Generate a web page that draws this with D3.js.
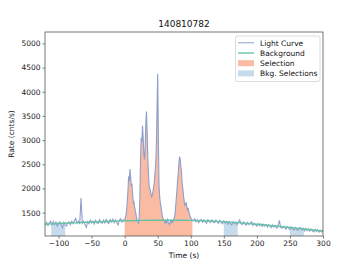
<!DOCTYPE html>
<html><head><meta charset="utf-8">
<script src="https://cdn.jsdelivr.net/npm/d3@7"></script>
<style>body{margin:0;background:#fff}svg{display:block;font-family:"DejaVu Sans",sans-serif}</style>
</head><body><svg id="c" width="360" height="270"></svg>
<script>
const title = "140810782";
// light curve: three time segments (pre-burst 2 s bins, burst 1 s bins, post-burst 2 s bins)
const preTimes = d3.range(-120, 0, 2);
const preRates = [1240,1300,1230,1290,1320,1245,1315,1255,1305,1225,1290,1310,1250,1190,1300,1240,1225,1290,1310,1250,1320,1270,1335,1380,1280,1325,1265,1800,1280,1320,1255,1195,1315,1270,1345,1285,1325,1265,1340,1290,1275,1355,1295,1280,1345,1285,1360,1300,1275,1355,1305,1365,1290,1350,1295,1245,1345,1375,1305,1350];
const burstTimes = d3.range(0, 105, 1);
const burstRates = [1330,1400,1450,1560,1750,1950,2250,2150,2400,2250,2050,2100,1900,1700,1720,1620,1550,1480,1380,1340,1310,1270,1420,1800,2600,3050,2950,3300,3050,2700,2600,2850,3350,3590,3150,2650,2300,2050,2000,1950,1880,1830,1870,1950,2050,2150,2350,2500,2900,3700,4370,3000,2050,1820,1700,1620,1520,1430,1380,1350,1330,1290,1350,1280,1330,1360,1290,1275,1250,1310,1330,1280,1350,1300,1360,1380,1450,1600,1780,1950,2150,2320,2500,2660,2600,2450,2320,2100,2000,1850,1750,1640,1680,1700,1620,1560,1600,1520,1480,1420,1390,1370,1350,1340,1330];
const postTimes = d3.range(106, 301, 2);
const postRates = [1370,1310,1355,1290,1345,1360,1300,1350,1310,1280,1355,1320,1295,1350,1305,1290,1345,1310,1280,1340,1295,1270,1330,1285,1320,1260,1310,1275,1250,1315,1270,1305,1250,1310,1350,1270,1255,1310,1260,1240,1300,1255,1285,1310,1235,1280,1245,1220,1275,1230,1270,1215,1260,1220,1255,1200,1250,1215,1190,1245,1200,1235,1180,1225,1340,1190,1175,1220,1185,1160,1210,1175,1150,1205,1165,1140,1190,1150,1130,1180,1195,1140,1175,1125,1170,1130,1160,1115,1160,1125,1100,1150,1110,1145,1095,1135,1100,1130];
// background model sampled every 20 s
const bkgTimes = d3.range(-120, 301, 20);
const bkgRates = [1262,1275,1288,1300,1312,1322,1331,1338,1342,1344,1343,1340,1333,1320,1303,1283,1260,1235,1208,1178,1150,1120];
const selection = [0, 102.5];
const bkgSelections = [[-111,-90],[150,171],[250,271]];
const xTicks = [-100,-50,0,50,100,150,200,250,300];
const yTicks = [1500,2000,2500,3000,3500,4000,4500,5000];
const legendLabels = ["Light Curve","Background","Selection","Bkg. Selections"];

const lc = preTimes.map((t,i)=>({t,r:preRates[i]}))
  .concat(burstTimes.map((t,i)=>({t,r:burstRates[i]})))
  .concat(postTimes.map((t,i)=>({t,r:postRates[i]})));
const bkg = bkgTimes.map((t,i)=>({t,r:bkgRates[i]}));

const m = {l:45, r:323, t:32, b:236};
const svg = d3.select("#c");
const x = d3.scaleLinear().domain([-120.5, 300]).range([m.l, m.r]);
const y = d3.scaleLinear().domain([1017, 5236]).range([m.b, m.t]);

svg.append("clipPath").attr("id","pc").append("rect")
  .attr("x",m.l).attr("y",m.t).attr("width",m.r-m.l).attr("height",m.b-m.t);
const g = svg.append("g").attr("clip-path","url(#pc)");

const area = d3.area().x(d=>x(d.t)).y0(m.b).y1(d=>y(d.r));
function at(t){
  for(let i=0;i<lc.length-1;i++){ if(lc[i].t<=t && lc[i+1].t>=t){ const f=(t-lc[i].t)/(lc[i+1].t-lc[i].t); return lc[i].r+f*(lc[i+1].r-lc[i].r);} }
  return lc[lc.length-1].r;
}
function segment(a,b){
  const inside = lc.filter(d=>d.t>a && d.t<b);
  return [{t:a,r:at(a)}].concat(inside,[{t:b,r:at(b)}]);
}
bkgSelections.forEach(s=>{
  g.append("path").datum(segment(s[0],s[1])).attr("d",area).attr("fill","#c6dbeb");
});
g.append("path").datum(segment(selection[0],selection[1])).attr("d",area).attr("fill","#fbbba2");

g.append("path").datum(lc).attr("fill","none").attr("stroke","#8da0cb").attr("stroke-width",1.1)
  .attr("d",d3.line().x(d=>x(d.t)).y(d=>y(d.r)));
g.append("path").datum(bkg).attr("fill","none").attr("stroke","#66c2a5").attr("stroke-width",1.4)
  .attr("d",d3.line().curve(d3.curveMonotoneX).x(d=>x(d.t)).y(d=>y(d.r)));

// axes
const xa = svg.append("g").attr("transform",`translate(0,${m.b})`)
  .call(d3.axisBottom(x).tickValues(xTicks).tickSize(2.5).tickPadding(2).tickFormat(d=>d<0?"\u2212"+(-d):String(d)));
const ya = svg.append("g").attr("transform",`translate(${m.l},0)`)
  .call(d3.axisLeft(y).tickValues(yTicks).tickSize(2.5).tickPadding(2).tickFormat(d3.format("d")));
[xa,ya].forEach(a=>{a.select(".domain").remove();a.selectAll("text").attr("font-size",7.5).attr("fill","#222").attr("font-family","DejaVu Sans");a.selectAll("line").attr("stroke","#444").attr("stroke-width",0.7);});
svg.append("rect").attr("x",m.l).attr("y",m.t).attr("width",m.r-m.l).attr("height",m.b-m.t)
  .attr("fill","none").attr("stroke","#555").attr("stroke-width",0.8);

svg.append("text").attr("x",(m.l+m.r)/2).attr("y",27).attr("text-anchor","middle").attr("font-size",9).attr("fill","#111").text(title);
svg.append("text").attr("x",(m.l+m.r)/2).attr("y",258).attr("text-anchor","middle").attr("font-size",7.5).attr("fill","#111").text("Time (s)");
svg.append("text").attr("transform",`translate(14,${(m.t+m.b)/2}) rotate(-90)`).attr("text-anchor","middle").attr("font-size",7.5).attr("fill","#111").text("Rate (cnts/s)");

// legend
const lg = svg.append("g");
lg.append("rect").attr("x",235.5).attr("y",36).attr("width",84.5).attr("height",45.5).attr("rx",2)
  .attr("fill","#fff").attr("fill-opacity",0.8).attr("stroke","#ccc").attr("stroke-width",0.7);
const rowY = [42.8,53,63.2,73.4];
legendLabels.forEach((lab,i)=>{
  const yy = rowY[i];
  if(i===0) lg.append("line").attr("x1",238).attr("x2",254).attr("y1",yy).attr("y2",yy).attr("stroke","#8da0cb").attr("stroke-width",1);
  if(i===1) lg.append("line").attr("x1",238).attr("x2",254).attr("y1",yy).attr("y2",yy).attr("stroke","#66c2a5").attr("stroke-width",1.4);
  if(i===2) lg.append("rect").attr("x",238).attr("y",yy-3).attr("width",16).attr("height",6).attr("fill","#fbbba2");
  if(i===3) lg.append("rect").attr("x",238).attr("y",yy-3).attr("width",16).attr("height",6).attr("fill","#c6dbeb");
  lg.append("text").attr("x",260).attr("y",yy+2.7).attr("font-size",7.5).attr("fill","#111").text(lab);
});
</script></body></html>
